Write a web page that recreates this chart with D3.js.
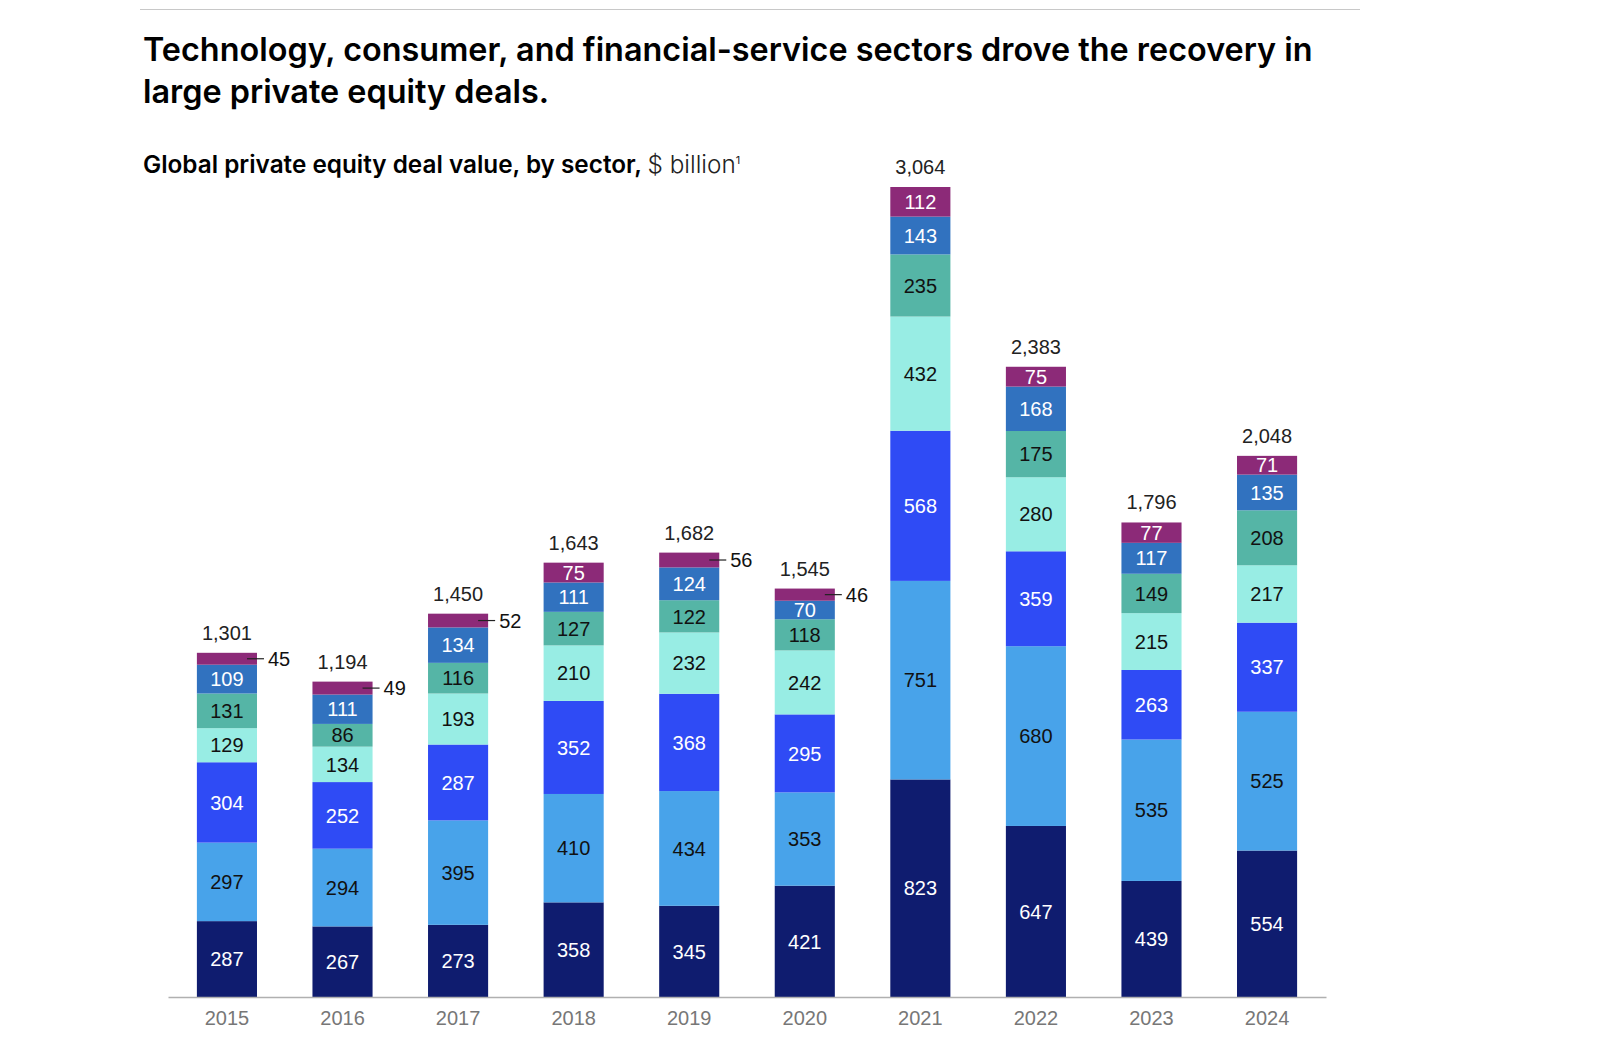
<!DOCTYPE html>
<html><head><meta charset="utf-8">
<script src="https://cdn.jsdelivr.net/npm/d3@7"></script>
<style>body{margin:0;background:#fff;}svg{display:block;}</style>
</head><body>
<script>
const years = ["2015","2016","2017","2018","2019","2020","2021","2022","2023","2024"];
const sectors = ["s1","s2","s3","s4","s5","s6","s7"];
const s1 = [287,267,273,358,345,421,823,647,439,554];
const s2 = [297,294,395,410,434,353,751,680,535,525];
const s3 = [304,252,287,352,368,295,568,359,263,337];
const s4 = [129,134,193,210,232,242,432,280,215,217];
const s5 = [131,86,116,127,122,118,235,175,149,208];
const s6 = [109,111,134,111,124,70,143,168,117,135];
const s7 = [45,49,52,75,56,46,112,75,77,71];
const totals = [1301,1194,1450,1643,1682,1545,3064,2383,1796,2048];
const seriesVals = [s1,s2,s3,s4,s5,s6,s7];
const colors = ["#0f1c6f","#48a3ea","#2f4bf5","#98ede4","#55b5a6","#3172bf","#8c2a78"];
const textColors = ["#fff","#111","#fff","#111","#111","#fff","#fff"];

const W=1600,H=1049;
const svg=d3.select("body").append("svg").attr("width",W).attr("height",H);
const font="'Liberation Sans', Arial, sans-serif";
const tfont="Inter, 'Liberation Sans', sans-serif";

svg.append("line").attr("x1",140).attr("x2",1360).attr("y1",9.5).attr("y2",9.5).attr("stroke","#c8c8c8").attr("stroke-width",1);
const title=svg.append("text").attr("x",143).attr("y",61).attr("font-family",tfont).attr("font-weight",600).attr("font-size",30).attr("fill","#000");
const t1=title.append("tspan").attr("x",143).attr("dy",0).text("Technology, consumer, and financial-service sectors drove the recovery in");
title.append("tspan").attr("x",143).attr("dy",41.5).text("large private equity deals.");
// fit title width
const l1=t1.node().getComputedTextLength();
title.attr("font-size",30*1170/l1);

const sub=svg.append("text").attr("x",143).attr("y",173).attr("font-family",tfont).attr("font-size",21).attr("fill","#000");
const sa=sub.append("tspan").attr("font-weight",600).text("Global private equity deal value, by sector, ");
sub.append("tspan").attr("fill","#222").attr("font-weight",300).text("$ billion");
sub.append("tspan").attr("font-size",11).attr("dy",-9).attr("fill","#222").text("1");
const la=sa.node().getComputedTextLength();
sub.attr("font-size",21*505/la);

const x=d3.scaleBand().domain(years).range([168,1326]).paddingInner(0.48).paddingOuter(0.25);
const y=d3.scaleLinear().domain([0,3064]).range([997,187]);

const table=years.map((yr,i)=>{const o={year:yr};sectors.forEach((s,j)=>o[s]=seriesVals[j][i]);return o;});
const stacked=d3.stack().keys(sectors)(table);

stacked.forEach((layer,j)=>{
  const g=svg.append("g");
  g.selectAll("rect").data(layer).join("rect")
    .attr("x",d=>x(d.data.year)).attr("width",x.bandwidth())
    .attr("y",d=>y(d[1])).attr("height",d=>y(d[0])-y(d[1]))
    .attr("fill",colors[j]);
  layer.forEach(d=>{
    const v=d[1]-d[0];
    const cx=x(d.data.year)+x.bandwidth()/2;
    const cy=(y(d[0])+y(d[1]))/2;
    if(j===6 && v<60){
      const xr=x(d.data.year)+x.bandwidth();
      svg.append("line").attr("x1",xr-10).attr("x2",xr+7).attr("y1",cy).attr("y2",cy).attr("stroke","#222").attr("stroke-width",1.2);
      svg.append("text").attr("x",xr+11).attr("y",cy).attr("dy","0.36em").attr("font-family",font).attr("font-size",20).attr("fill","#111").text(v);
    } else {
      svg.append("text").attr("x",cx).attr("y",cy).attr("dy","0.36em").attr("text-anchor","middle").attr("font-family",font).attr("font-size",20).attr("fill",textColors[j]).text(v);
    }
  });
});

svg.selectAll(".tot").data(years).join("text")
  .attr("x",d=>x(d)+x.bandwidth()/2).attr("y",(d,i)=>y(d3.sum(seriesVals,s=>s[i]))-13)
  .attr("text-anchor","middle").attr("font-family",font).attr("font-size",20).attr("fill","#222")
  .text((d,i)=>d3.format(",")(totals[i]));

const ax=svg.append("g").attr("transform","translate(0,997)").call(d3.axisBottom(x).tickSize(0).tickPadding(14));
ax.select(".domain").attr("stroke","#b0b0b0").attr("stroke-width",1.3);
ax.selectAll("text").attr("font-family",font).attr("font-size",20).attr("fill","#777");
</script>
</body></html>
